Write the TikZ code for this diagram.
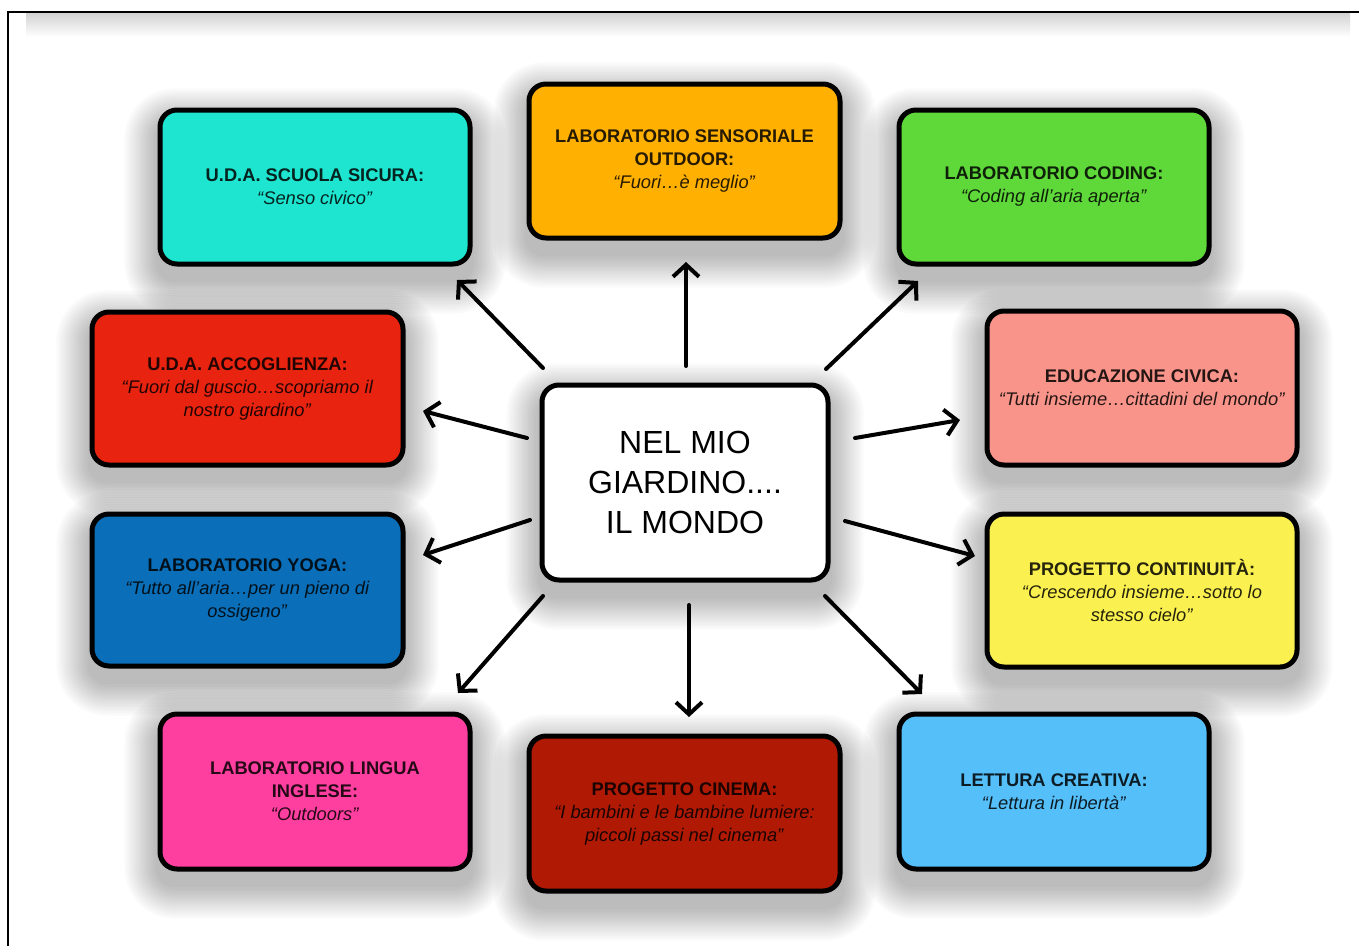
\documentclass[tikz,border=0pt]{standalone}
\usepackage{fontspec}
\setmainfont{Liberation Sans}
\usetikzlibrary{arrows.meta}
\definecolor{cCyan}{HTML}{1EE5D0}
\definecolor{cOrange}{HTML}{FFB000}
\definecolor{cGreen}{HTML}{5FD83A}
\definecolor{cRed}{HTML}{E8230F}
\definecolor{cSalmon}{HTML}{F9948A}
\definecolor{cBlue}{HTML}{0A6FB8}
\definecolor{cYellow}{HTML}{FAF050}
\definecolor{cPink}{HTML}{FF3FA0}
\definecolor{cDarkRed}{HTML}{B01A05}
\definecolor{cLightBlue}{HTML}{55BFFA}
\tikzset{
  box/.style n args={2}{draw=black, line width=5pt, rounded corners=17pt,
    minimum width=#1pt, minimum height=#2pt, inner sep=0pt, align=center,
    text=black, text opacity=0.85, font=\fontsize{18.3}{23}\selectfont},
  arr/.style={line width=4pt, line cap=round, -{Straight Barb[length=12pt,width=26pt]}},
  shadowlayer/.style={fill=black, opacity=0.02},
  frame/.style={line width=2pt, draw=black}
}
\newcommand{\hd}[1]{\textbf{#1}}
\begin{document}
\begin{tikzpicture}[x=1pt,y=-1pt]
\useasboundingbox (0,0) rectangle (1359,946);
\fill[white] (0,0) rectangle (1359,946);
% top band
\shade[top color=gray!35, bottom color=white] (26,13) rectangle (1350,37);
\draw[frame] (8,946) -- (8,12) -- (1359,12);
% shadows
\foreach \cx/\cy/\w/\h in {315/187/314/158, 684.5/161/315/158, 1054/187/314/158,
  247.5/388.5/315/157, 1142/388/314/158, 247.5/590/315/156, 1142/590.5/314/157,
  315/791.5/314/159, 684.5/813.5/315/159, 1054/791.5/314/159, 685/482.5/290/199}{
  \foreach \i in {1,...,14}{
    \pgfmathsetmacro\rr{17+\i*2.4}
    \fill[shadowlayer, rounded corners=\rr pt] ({\cx-\w/2-\i*2.4},{\cy-\h/2-\i*2.4+14}) rectangle ({\cx+\w/2+\i*2.4},{\cy+\h/2+\i*2.4+14});
  }
}
% boxes
\node[box={310}{154}, fill=cCyan] (b1) at (315,187) {\hd{U.D.A. SCUOLA SICURA:}\\ \textit{“Senso civico”}};
\node[box={311}{154}, fill=cOrange] (b2) at (684.5,161) {\hd{LABORATORIO SENSORIALE}\\ \hd{OUTDOOR:}\\ \textit{“Fuori…è meglio”}};
\node[box={310}{154}, fill=cGreen] (b3) at (1054,187) {\hd{LABORATORIO CODING:}\\ \textit{“Coding all’aria aperta”}};
\node[box={311}{153}, fill=cRed] (b4) at (247.5,388.5) {\hd{U.D.A. ACCOGLIENZA:}\\ \textit{“Fuori dal guscio…scopriamo il}\\ \textit{nostro giardino”}};
\node[box={310}{154}, fill=cSalmon] (b5) at (1142,388) {\hd{EDUCAZIONE CIVICA:}\\ \textit{“Tutti insieme…cittadini del mondo”}};
\node[box={311}{152}, fill=cBlue] (b6) at (247.5,590) {\hd{LABORATORIO YOGA:}\\ \textit{“Tutto all’aria…per un pieno di}\\ \textit{ossigeno”}};
\node[box={310}{153}, fill=cYellow] (b7) at (1142,590.5) {\hd{PROGETTO CONTINUITÀ:}\\ \textit{“Crescendo insieme…sotto lo}\\ \textit{stesso cielo”}};
\node[box={310}{155}, fill=cPink] (b8) at (315,791.5) {\hd{LABORATORIO LINGUA}\\ \hd{INGLESE:}\\ \textit{“Outdoors”}};
\node[box={311}{155}, fill=cDarkRed] (b9) at (684.5,813.5) {\hd{PROGETTO CINEMA:}\\ \textit{“I bambini e le bambine lumiere:}\\ \textit{piccoli passi nel cinema”}};
\node[box={310}{155}, fill=cLightBlue] (b10) at (1054,791.5) {\hd{LETTURA CREATIVA:}\\ \textit{“Lettura in libertà”}};
\node[box={286}{195}, fill=white, text opacity=1, font=\fontsize{32}{40}\selectfont] (ctr) at (685,482.5) {NEL MIO\\ GIARDINO....\\ IL MONDO};
% arrow ends
\coordinate (s1) at (543,368);  \coordinate (e1) at (457,280);
\coordinate (s2) at (686,366);  \coordinate (e2) at (686,262);
\coordinate (s3) at (826,369);  \coordinate (e3) at (918,281);
\coordinate (s4) at (527,438);  \coordinate (e4) at (423,411);
\coordinate (s5) at (855,438);  \coordinate (e5) at (960,420);
\coordinate (s6) at (530,520);  \coordinate (e6) at (423,555);
\coordinate (s7) at (845,521);  \coordinate (e7) at (975,556);
\coordinate (s8) at (543,596);  \coordinate (e8) at (458,693);
\coordinate (s9) at (689,605);  \coordinate (e9) at (689,717);
\coordinate (s10) at (825,596); \coordinate (e10) at (922,694);
\foreach \k in {1,...,10}{ \draw[arr] (s\k) -- (e\k); }
\end{tikzpicture}
\end{document}
